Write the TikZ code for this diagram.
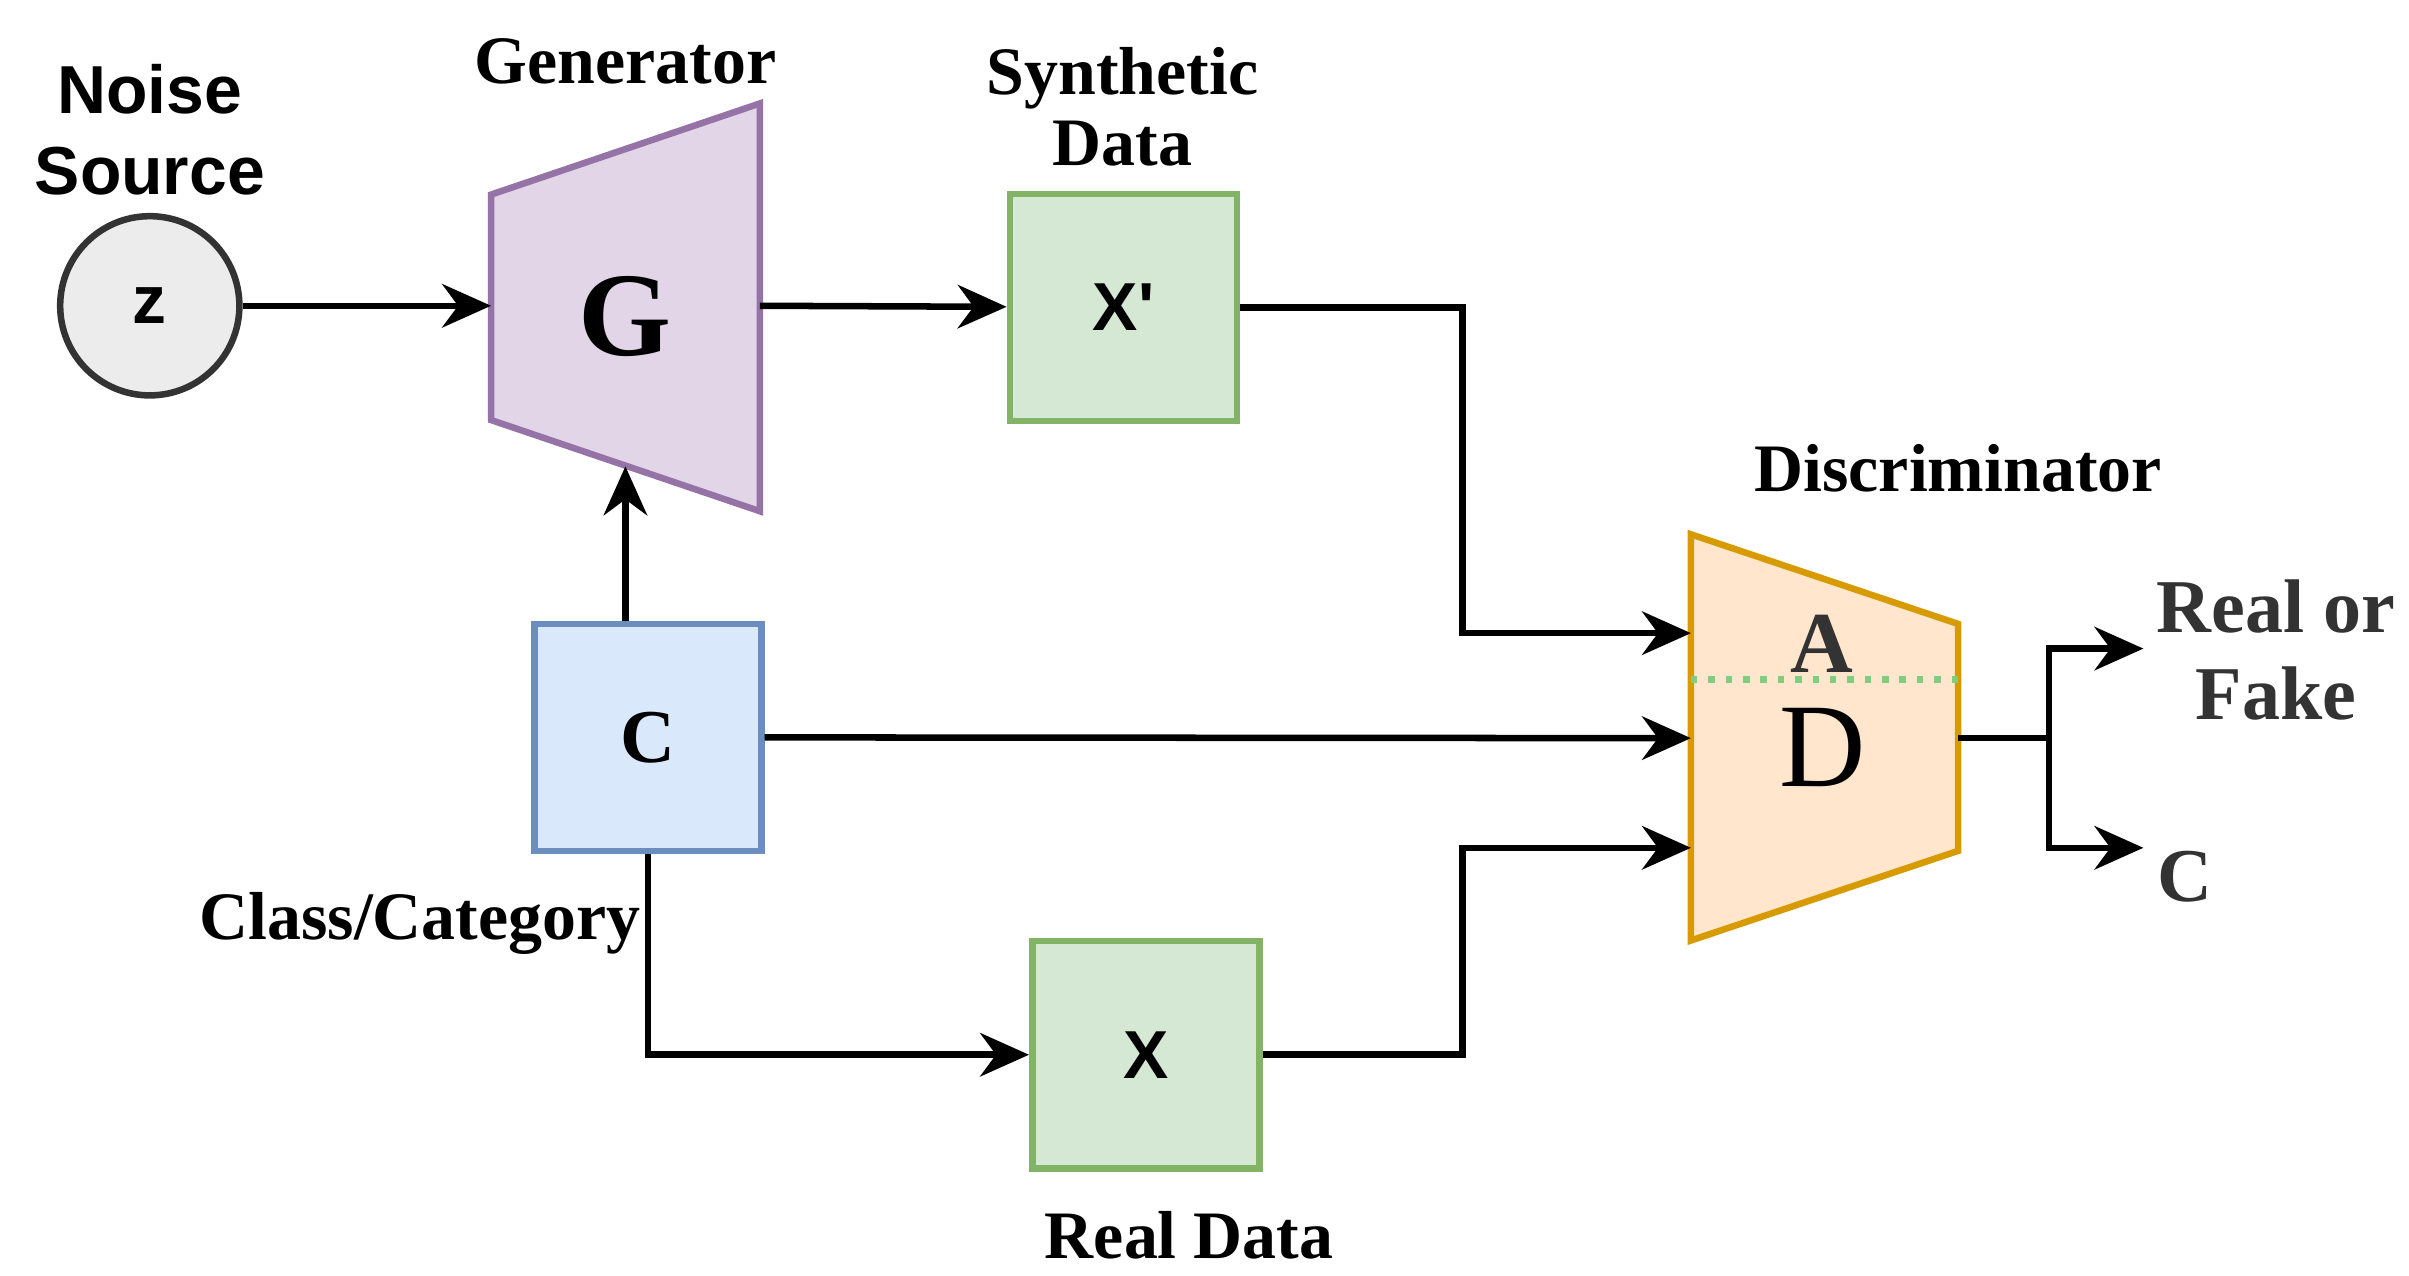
\documentclass[tikz,border=0pt]{standalone}
\usepackage{fontspec}
\setmainfont{Liberation Serif}
\newfontfamily\sansf{Liberation Sans}
\usetikzlibrary{arrows.meta}
\definecolor{gfill}{HTML}{E1D5E7}\definecolor{gline}{HTML}{9673A6}
\definecolor{xfill}{HTML}{D5E8D4}\definecolor{xline}{HTML}{82B366}
\definecolor{cfill}{HTML}{DAE8FC}\definecolor{cline}{HTML}{6C8EBF}
\definecolor{dfill}{HTML}{FFE6CC}\definecolor{dline}{HTML}{D79B00}
\definecolor{dk}{HTML}{333333}
\begin{document}
\begin{tikzpicture}[x=0.01cm,y=-0.01cm,
  box/.style={draw,line width=1.2pt,minimum width=1.47cm,minimum height=1.47cm,inner sep=0pt},
  lbl/.style={font=\bfseries\fontsize{12.5}{13}\selectfont,align=center,inner sep=0pt},
  slbl/.style={font=\sansf\bfseries\fontsize{12.5}{15}\selectfont,align=center,inner sep=0pt},
  arr/.style={line width=1.2pt,-{Stealth[length=9pt,width=8pt]}}]
\useasboundingbox (0,0) rectangle (1560,826);
% noise
\node[circle,draw=dk,fill=gray!15,line width=1.2pt,minimum size=1.16cm,inner sep=0pt,slbl] (z) at (97,198) {z};
\node[slbl] (ns) at (97,84) {Noise\\Source};
% generator
\draw[fill=gfill,draw=gline,line width=1.2pt] (318,126) -- (492,67) -- (492,331) -- (318,272) -- cycle;
\coordinate (gl) at (318,198); \coordinate (gr) at (492,198); \coordinate (gb) at (405,302);
\node[font=\bfseries\fontsize{22}{22}\selectfont] (G) at (405,205) {G};
\node[lbl] (gen) at (405,40) {Generator};
% X'
\node[box,fill=xfill,draw=xline,slbl] (xp) at (727.5,199) {X'};
\node[lbl] (syn) at (727,69) {Synthetic\\Data};
% C
\node[box,fill=cfill,draw=cline,font=\bfseries\fontsize{14}{14}\selectfont] (c) at (419.5,477.5) {C};
\node[lbl] (cc) at (272,598) {Class/Category};
% X
\node[box,fill=xfill,draw=xline,slbl] (x) at (742,683) {X};
\node[lbl] (rd) at (770,800) {Real Data};
% discriminator
\draw[fill=dfill,draw=dline,line width=1.2pt] (1095,346) -- (1268,404) -- (1268,551) -- (1095,609) -- cycle;
\draw[green!60!black!50,dotted,line width=1.2pt] (1095,440) -- (1268,440);
\coordinate (d1) at (1095,410); \coordinate (d2) at (1095,478); \coordinate (d3) at (1095,549);
\coordinate (dr) at (1268,478);
\node[font=\bfseries\fontsize{16}{16}\selectfont,text=dk] (A) at (1180,417) {A};
\node[font=\fontsize{22}{22}\selectfont] (D) at (1180,484) {D};
\node[lbl] (dis) at (1268,303) {Discriminator};
% outputs
\coordinate (sp) at (1327,478);
\coordinate (o1) at (1388,420); \coordinate (o2) at (1388,549);
\node[lbl,text=dk,font=\bfseries\fontsize{14}{16}\selectfont] (rf) at (1474,421) {Real or\\Fake};
\node[lbl,text=dk,font=\bfseries\fontsize{14}{14}\selectfont] (oc) at (1415,568) {C};
% connectors
\draw[arr] (z) -- (gl);
\draw[arr] (gr) -- (xp);
\draw[arr] (c.north -| gb) -- (gb);
\draw[arr] (xp.east) -| (947,300) |- (d1);
\draw[arr] (c.east) -- (d2);
\draw[arr] (c.south) |- (x.west);
\draw[arr] (x.east) -| (947,600) |- (d3);
\draw[line width=1.2pt] (dr) -- (sp);
\draw[arr] (sp) |- (o1);
\draw[arr] (sp) |- (o2);
\end{tikzpicture}
\end{document}
